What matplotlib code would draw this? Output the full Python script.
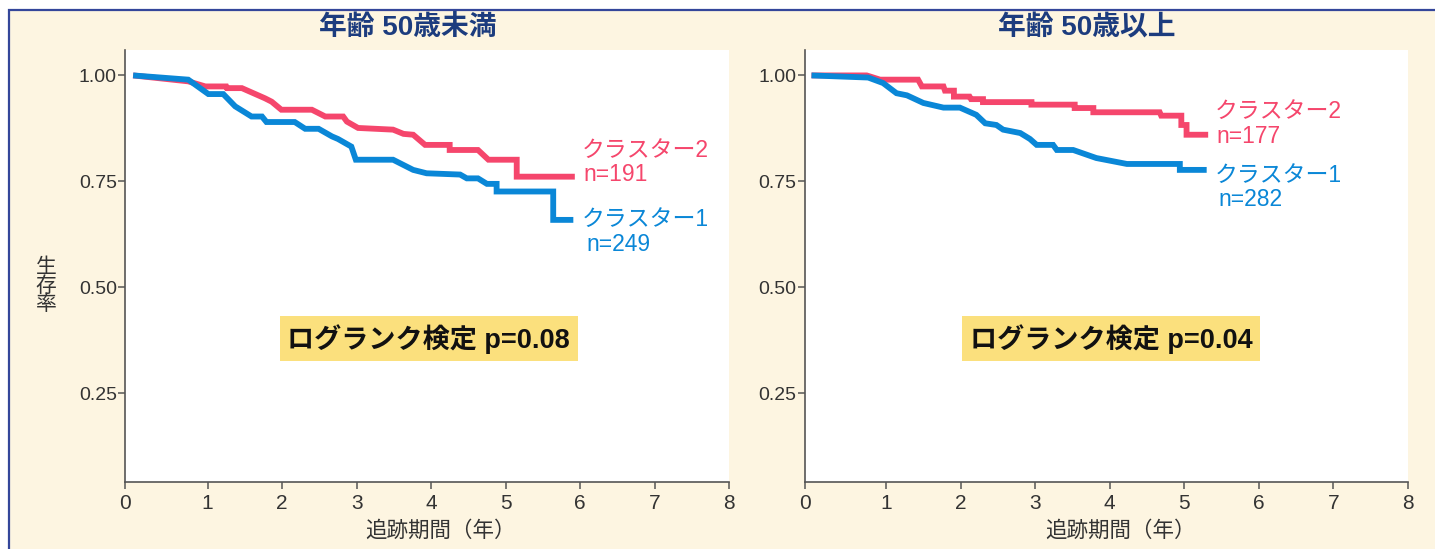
import matplotlib
matplotlib.use("Agg")
import matplotlib.pyplot as plt
from matplotlib.patches import Rectangle, Circle

plt.rcParams['font.family'] = ['Liberation Sans', 'Noto Sans CJK JP', 'DejaVu Sans']

# ---------------- data ----------------
panel_titles = ["年齢 50歳未満", "年齢 50歳以上"]
pvalue_texts = ["ログランク検定 p=0.08", "ログランク検定 p=0.04"]
cluster_names = ["クラスター1", "クラスター2"]
n_under50 = [249, 191]
n_over50 = [282, 177]

# under 50, cluster 1 (blue)
t_u50_c1 = [0, 0.74, 1.01, 1.21, 1.37, 1.59, 1.73, 1.79, 2.17, 2.31, 2.49, 2.67, 2.75,
            2.93, 2.99, 3.49, 3.76, 3.94, 4.39, 4.48, 4.63, 4.75, 4.88, 4.88, 5.64, 5.64, 5.91]
s_u50_c1 = [1.0, 0.990, 0.956, 0.956, 0.927, 0.903, 0.903, 0.890, 0.890, 0.874, 0.874, 0.856, 0.850,
            0.832, 0.801, 0.801, 0.777, 0.769, 0.766, 0.757, 0.757, 0.744, 0.744, 0.726, 0.726, 0.659, 0.659]
# under 50, cluster 2 (red)
t_u50_c2 = [0, 0.74, 0.97, 1.25, 1.26, 1.46, 1.77, 1.86, 1.99, 2.40, 2.58, 2.82, 2.87, 3.02,
            3.49, 3.63, 3.76, 3.92, 4.25, 4.25, 4.63, 4.77, 5.15, 5.15, 5.93]
s_u50_c2 = [1.0, 0.986, 0.974, 0.974, 0.970, 0.970, 0.946, 0.938, 0.919, 0.919, 0.903, 0.903, 0.891, 0.876,
            0.872, 0.862, 0.860, 0.836, 0.836, 0.824, 0.824, 0.801, 0.801, 0.761, 0.761]
# 50 and over, cluster 1 (blue)
t_o50_c1 = [0, 0.76, 0.96, 1.14, 1.28, 1.50, 1.77, 1.99, 2.21, 2.33, 2.48, 2.57, 2.80, 2.93,
            3.02, 3.24, 3.29, 3.51, 3.82, 4.23, 4.94, 4.94, 5.30]
s_o50_c1 = [1.0, 0.995, 0.982, 0.958, 0.953, 0.935, 0.924, 0.924, 0.907, 0.887, 0.883, 0.872, 0.864, 0.850,
            0.836, 0.836, 0.824, 0.824, 0.805, 0.791, 0.791, 0.777, 0.777]
# 50 and over, cluster 2 (red)
t_o50_c2 = [0, 0.74, 0.92, 1.43, 1.48, 1.77, 1.79, 1.91, 1.91, 2.12, 2.14, 2.30, 2.30, 2.95, 2.95,
            3.53, 3.53, 3.78, 3.78, 4.67, 4.69, 4.96, 4.96, 5.03, 5.03, 5.32]
s_o50_c2 = [1.0, 1.0, 0.990, 0.990, 0.974, 0.974, 0.964, 0.964, 0.950, 0.950, 0.944, 0.944, 0.937, 0.937, 0.931,
            0.931, 0.923, 0.923, 0.913, 0.913, 0.905, 0.905, 0.883, 0.883, 0.860, 0.860]

x_ticks = [0, 1, 2, 3, 4, 5, 6, 7, 8]
y_ticks = [0.25, 0.50, 0.75, 1.00]
y_ticklabels = ["0.25", "0.50", "0.75", "1.00"]
x_label = "追跡期間（年）"
y_label = "生\n存\n率"

# ---------------- style ----------------
W, H = 1435, 549
BLUE = '#0A87D7'
RED = '#F5466C'
NAVY = '#1C3C7E'
BG = '#FDF5E1'
BORDER = '#34469A'
BOX = '#FBE07D'
AXC = '#555555'
TXT = '#333333'
CJK = ['Liberation Sans', 'Noto Sans CJK JP', 'DejaVu Sans']

fig = plt.figure(figsize=(W / 100, H / 100), dpi=100)
fig.patch.set_facecolor('white')

# beige panel with blue border (left & top visible)
fig.patches.append(Rectangle((9 / W, -0.2), 1.2, 1 - 10 / H + 0.2, transform=fig.transFigure,
                             facecolor=BG, edgecolor=BORDER, linewidth=1.6, zorder=-10))
fig.patches.append(Circle((16 / W, 1 + 3 / H), 8 / W, transform=fig.transFigure,
                          facecolor='#F6B93B', edgecolor='none', zorder=-9))

def px2fig(x, y):
    return x / W, 1 - y / H

axes_px = [(125.3, 50, 729, 481.7), (805, 50, 1408, 481.7)]
xlims = [(-0.105, 8.0), (-0.087, 8.0)]
ylim = (0.041, 1.060)

panels = [
    ((t_u50_c1, s_u50_c1), (t_u50_c2, s_u50_c2), n_under50),
    ((t_o50_c1, s_o50_c1), (t_o50_c2, s_o50_c2), n_over50),
]
label_pos = [
    [(6.02, 0.659), (6.09, 0.600), (6.02, 0.824), (6.05, 0.765)],
    [(5.41, 0.765), (5.46, 0.706), (5.41, 0.914), (5.43, 0.855)],
]
title_px = [408, 1087]
xlabel_px = [440, 1120]
box_pos = [(3.97, 0.378), (4.02, 0.378)]

for i, (c1, c2, ns) in enumerate(panels):
    l, t, r, b = axes_px[i]
    x0, y0 = px2fig(l, b)
    x1, y1 = px2fig(r, t)
    ax = fig.add_axes([x0, y0, x1 - x0, y1 - y0])
    ax.set_facecolor('white')
    ax.plot(c2[0], c2[1], color=RED, lw=4.2, solid_joinstyle='miter', solid_capstyle='butt', zorder=3)
    ax.plot(c1[0], c1[1], color=BLUE, lw=4.2, solid_joinstyle='miter', solid_capstyle='butt', zorder=4)
    ax.set_xlim(*xlims[i])
    ax.set_ylim(*ylim)
    for s in ['top', 'right']:
        ax.spines[s].set_visible(False)
    for s in ['left', 'bottom']:
        ax.spines[s].set_color(AXC)
        ax.spines[s].set_linewidth(1.2)
    xt = [xlims[i][0]] + x_ticks[1:]
    ax.set_xticks(xt)
    ax.set_xticklabels([str(v) for v in x_ticks], fontsize=15, color=TXT, family='Liberation Sans')
    ax.set_yticks(y_ticks)
    ax.set_yticklabels(y_ticklabels, fontsize=14, color=TXT, family='Liberation Sans')
    ax.tick_params(axis='both', direction='out', length=5, width=1.1, color=AXC)
    ax.tick_params(axis='x', pad=4)
    ax.tick_params(axis='y', pad=1)

    # curve labels
    (a1, a2, a3, a4) = label_pos[i]
    ax.text(a1[0], a1[1], cluster_names[0], color=BLUE, fontsize=16.5, family=CJK, va='center', ha='left')
    ax.text(a2[0], a2[1], f"n={ns[0]}", color=BLUE, fontsize=16.5, family=CJK, va='center', ha='left')
    ax.text(a3[0], a3[1], cluster_names[1], color=RED, fontsize=16.5, family=CJK, va='center', ha='left')
    ax.text(a4[0], a4[1], f"n={ns[1]}", color=RED, fontsize=16.5, family=CJK, va='center', ha='left')

    # p-value box
    ax.text(box_pos[i][0], box_pos[i][1], pvalue_texts[i], fontsize=19.5, fontweight='bold', family=CJK,
            color='#111111', ha='center', va='center',
            bbox=dict(boxstyle='square,pad=0.28', facecolor=BOX, edgecolor='none'))

    # title
    tx, ty = px2fig(title_px[i], 28)
    fig.text(tx, ty, panel_titles[i], fontsize=20, fontweight='bold', color=NAVY, family=CJK,
             ha='center', va='center')
    # x label
    lx, ly = px2fig(xlabel_px[i], 531)
    fig.text(lx, ly, x_label, fontsize=15.5, color=TXT, family=CJK, ha='center', va='center')

yx, yy = px2fig(46, 286)
fig.text(yx, yy, y_label, fontsize=15, color=TXT, family=CJK, ha='center', va='center', linespacing=0.95)

fig.savefig('out.png', dpi=100, facecolor=fig.get_facecolor())
